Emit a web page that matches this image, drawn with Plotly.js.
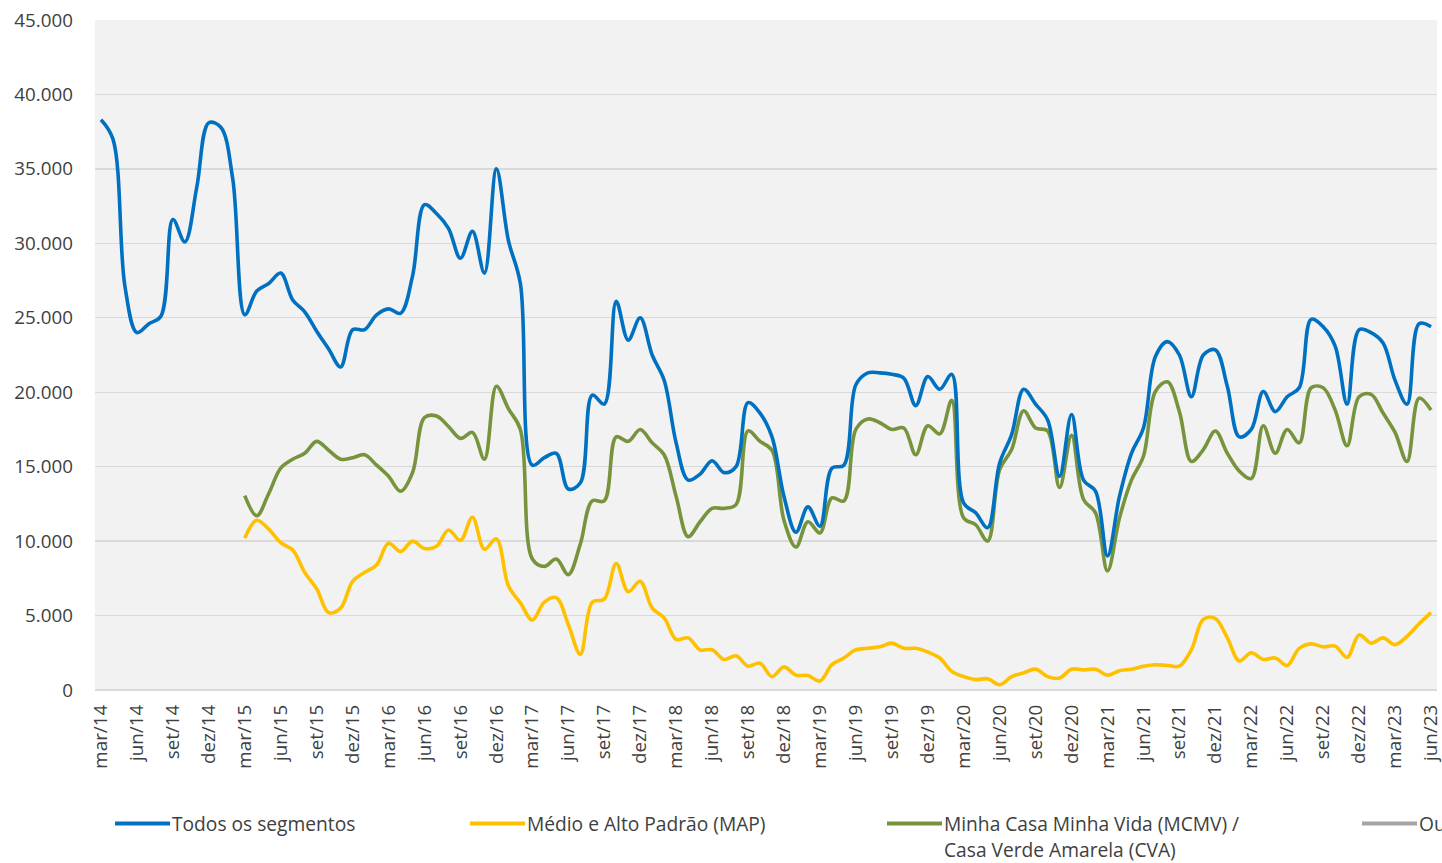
<!DOCTYPE html>
<html>
<head>
<meta charset="utf-8">
<script src="https://cdn.plot.ly/plotly-3.0.1.min.js"></script>
<style>
html,body{margin:0;padding:0;background:#fff;}
#chart{width:1442px;height:863px;}
</style>
</head>
<body>
<div id="chart"></div>
<script>
// Month index 0 = mar/14 ... 111 = jun/23
const tickLabels = ["mar/14","jun/14","set/14","dez/14","mar/15","jun/15","set/15","dez/15","mar/16","jun/16","set/16","dez/16","mar/17","jun/17","set/17","dez/17","mar/18","jun/18","set/18","dez/18","mar/19","jun/19","set/19","dez/19","mar/20","jun/20","set/20","dez/20","mar/21","jun/21","set/21","dez/21","mar/22","jun/22","set/22","dez/22","mar/23","jun/23"];
const tickIndex = [0,3,6,9,12,15,18,21,24,27,30,33,36,39,42,45,48,51,54,57,60,63,66,69,72,75,78,81,84,87,90,93,96,99,102,105,108,111];

const todos = [38300,37000,27100,24000,24600,25100,31600,30100,33800,38100,37800,34300,
25200,26800,27300,28000,26200,25400,24100,22900,21700,24200,24200,25200,
25600,25300,27800,32600,32000,31000,29000,30800,28000,35000,30200,27300,
15100,15600,15900,13500,13900,19800,19200,26100,23500,25000,22500,20800,
16600,14100,14500,15400,14600,15000,19300,18600,17000,13000,10600,12300,
11000,14900,15100,20500,21300,21300,21200,20950,19100,21050,20200,21200,
12550,11900,10900,15250,17150,20200,19200,18150,14350,18500,14100,13350,
9000,13000,15900,17600,22400,23400,22500,19700,22500,22850,20400,17000,
17500,20050,18700,19700,20300,24900,24400,23100,19200,24200,24000,23300,
20800,19200,24600,24400];

const map = [null,null,null,null,null,null,null,null,null,null,null,null,
10200,11400,10800,9900,9400,7900,6800,5200,5500,7300,7900,8400,
9850,9300,10000,9500,9650,10750,10050,11600,9450,10150,7000,5850,
4700,5900,6200,4400,2400,5900,6100,8500,6600,7300,5500,4850,
3400,3500,2700,2700,2050,2300,1600,1800,900,1550,1000,970,
600,1700,2150,2700,2800,2900,3150,2800,2800,2550,2150,1250,
900,700,750,350,900,1150,1400,900,800,1400,1350,1400,
1000,1300,1400,1600,1700,1650,1600,2700,4750,4800,3500,1950,
2500,2050,2150,1650,2800,3100,2900,2950,2200,3700,3150,3500,
3050,3600,4450,5200];

const mcmv = [null,null,null,null,null,null,null,null,null,null,null,null,
13050,11700,13200,14900,15500,15900,16700,16100,15500,15600,15800,15100,
14350,13350,14600,18300,18400,17700,16900,17300,15500,20400,18900,17500,
8800,8300,8800,7750,9800,12700,12700,17000,16700,17500,16600,15800,
13000,10300,11300,12200,12200,12450,17400,16700,16100,11400,9600,11300,
10550,12900,12700,17500,18200,17950,17500,17600,15800,17750,17200,19450,
11550,11100,10000,14800,16150,18750,17600,17400,13600,17100,12800,11900,
8000,11550,14100,15700,20050,20700,18700,15350,16150,17400,15900,14700,
14200,17750,15900,17500,16600,20300,20300,18800,16400,19700,19850,18600,
17300,15350,19600,18800];

const seriesNames = ["Todos os segmentos","Médio e Alto Padrão (MAP)","Minha Casa Minha Vida (MCMV) /","Casa Verde Amarela (CVA)","Outros"];
const colors = {todos:"#0070c0", map:"#ffc000", mcmv:"#77933c", outros:"#a6a6a6"};

const idx = todos.map((_, i) => i);

function mk(y, color, name){
  return {x: idx, y: y, type:"scatter", mode:"lines", name: name,
    line:{color: color, width:3.6, shape:"spline", smoothing:1},
    connectgaps:false, showlegend:false, hoverinfo:"x+y"};
}
const traces = [
  mk(mcmv, colors.mcmv, "Minha Casa Minha Vida (MCMV) / Casa Verde Amarela (CVA)"),
  mk(map, colors.map, "Médio e Alto Padrão (MAP)"),
  mk(todos, colors.todos, "Todos os segmentos")
];

// plot area in pixels
const L = 95, R = 1437, T = 20, B = 690.5, W = 1442, H = 863;
const px = v => (v - L) / (R - L);
const py = v => (B - v) / (B - T);

const legendItems = [
  {x0:115, color:colors.todos, lines:[seriesNames[0]]},
  {x0:470, color:colors.map, lines:[seriesNames[1]]},
  {x0:887, color:colors.mcmv, lines:[seriesNames[2], seriesNames[3]]},
  {x0:1362, color:colors.outros, lines:[seriesNames[4]]}
];
const shapes = [], annotations = [];
const legY = 824;
legendItems.forEach(it => {
  shapes.push({type:"line", xref:"paper", yref:"paper",
    x0:px(it.x0), x1:px(it.x0+55), y0:py(legY), y1:py(legY),
    line:{color:it.color, width:4}});
  it.lines.forEach((t, k) => {
    annotations.push({xref:"paper", yref:"paper", x:px(it.x0+56), y:py(legY + k*26.5),
      xanchor:"left", yanchor:"middle", showarrow:false, text:t, borderpad:0,
      font:{family:"Open Sans, sans-serif", size:19.2, color:"#404040"}});
  });
});

const layout = {
  width: W, height: H,
  margin:{l:L, r:W-R, t:T, b:H-B},
  paper_bgcolor:"#ffffff", plot_bgcolor:"#f2f2f2",
  separators:",.",
  font:{family:"Open Sans, sans-serif", size:18.5, color:"#404040"},
  xaxis:{range:[-0.5, 111.5], tickvals:tickIndex, ticktext:tickLabels, tickangle:-90,
    showgrid:false, zeroline:false, showline:false, ticks:"", ticklabelstandoff:10,
    ticklabeloverflow:"allow",
    tickfont:{family:"Open Sans, sans-serif", size:18.8, color:"#404040"}, fixedrange:true},
  yaxis:{range:[0,45000], dtick:5000, tickformat:",d", showgrid:true, gridcolor:"#d9d9d9", gridwidth:1.3,
    zeroline:true, zerolinecolor:"#d9d9d9", zerolinewidth:1.3, showline:false, ticks:"",
    ticklabelstandoff:21,
    tickfont:{family:"Open Sans, sans-serif", size:18.8, color:"#404040"}, fixedrange:true},
  showlegend:false,
  shapes: shapes,
  annotations: annotations
};

Plotly.newPlot("chart", traces, layout, {displayModeBar:false, staticPlot:true});
</script>
</body>
</html>
